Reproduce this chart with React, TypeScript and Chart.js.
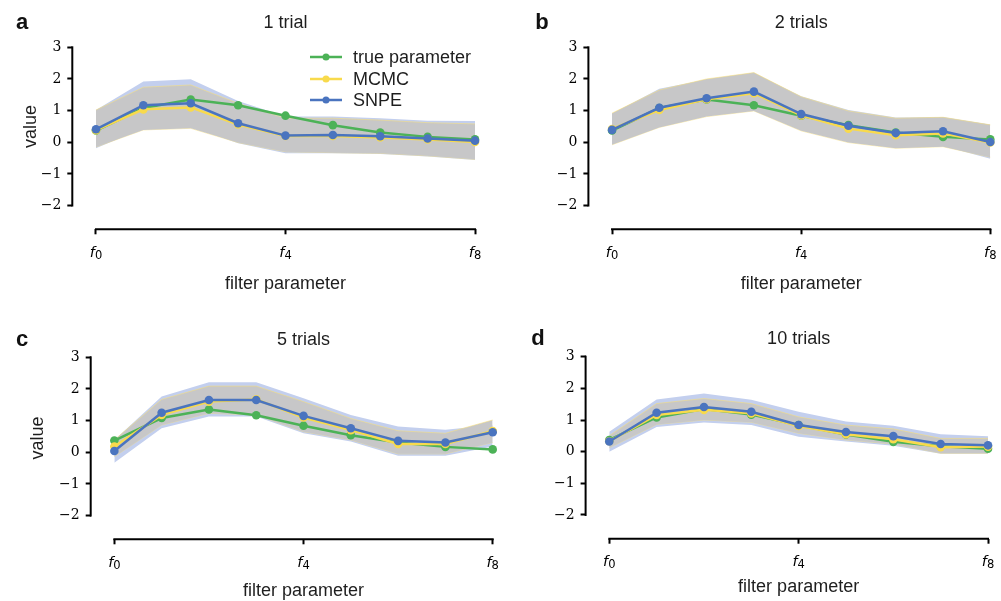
import React, { useEffect, useRef } from 'react';
import { Chart, registerables } from 'chart.js';

Chart.register(...registerables);

// ---------- data ----------
const filterIndex = [0, 1, 2, 3, 4, 5, 6, 7, 8];
const xTickValues = [0, 4, 8];
const xTickSubscripts = ['0', '4', '8'];
const yTickValues = [-2, -1, 0, 1, 2, 3];
const yTickLabels = ['\u22122', '\u22121', '0', '1', '2', '3'];
const panelTitles = ['1 trial', '2 trials', '5 trials', '10 trials'];
const panelLetters = ['a', 'b', 'c', 'd'];
const seriesNames = ['true parameter', 'MCMC', 'SNPE'];

const trueParameter = [0.37, 1.08, 1.35, 1.17, 0.84, 0.54, 0.31, 0.17, 0.09];

// 1 trial
const snpe1 = [0.41, 1.17, 1.23, 0.6, 0.21, 0.23, 0.19, 0.12, 0.05];
const mcmc1 = [0.38, 1.04, 1.1, 0.56, 0.2, 0.2, 0.15, 0.09, 0.01];
const snpeHi1 = [1.02, 1.92, 1.99, 1.3, 0.81, 0.81, 0.76, 0.68, 0.67];
const snpeLo1 = [-0.19, 0.44, 0.49, -0.03, -0.35, -0.35, -0.37, -0.45, -0.56];
const mcmcHi1 = [1.02, 1.74, 1.81, 1.23, 0.76, 0.76, 0.7, 0.62, 0.58];
const mcmcLo1 = [-0.15, 0.39, 0.44, -0.01, -0.3, -0.33, -0.35, -0.43, -0.54];

// 2 trials
const snpe2 = [0.39, 1.09, 1.39, 1.6, 0.89, 0.52, 0.29, 0.35, 0.01];
const mcmc2 = [0.42, 1.02, 1.36, 1.55, 0.85, 0.43, 0.22, 0.28, -0.01];
const snpeHi2 = [0.9, 1.69, 1.98, 2.18, 1.45, 1.02, 0.78, 0.8, 0.56];
const snpeLo2 = [-0.06, 0.49, 0.83, 1.01, 0.38, 0.02, -0.17, -0.12, -0.52];
const mcmcHi2 = [0.92, 1.65, 2.0, 2.2, 1.44, 0.99, 0.76, 0.79, 0.55];
const mcmcLo2 = [-0.08, 0.47, 0.81, 0.99, 0.36, -0.01, -0.19, -0.14, -0.47];

// 5 trials
const snpe5 = [0.04, 1.25, 1.65, 1.65, 1.15, 0.76, 0.36, 0.31, 0.63];
const mcmc5 = [0.18, 1.18, 1.6, 1.67, 1.1, 0.7, 0.26, 0.26, 0.67];
const snpeHi5 = [0.39, 1.76, 2.21, 2.21, 1.71, 1.18, 0.81, 0.71, 0.86];
const snpeLo5 = [-0.33, 0.76, 1.13, 1.13, 0.6, 0.34, -0.11, -0.11, 0.18];
const mcmcHi5 = [0.39, 1.67, 2.09, 2.09, 1.6, 1.07, 0.68, 0.6, 1.02];
const mcmcLo5 = [-0.14, 0.86, 1.23, 1.18, 0.65, 0.39, -0.05, -0.05, 0.31];

// 10 trials
const snpe10 = [0.32, 1.23, 1.41, 1.26, 0.84, 0.62, 0.49, 0.24, 0.2];
const mcmc10 = [0.33, 1.16, 1.32, 1.21, 0.81, 0.55, 0.39, 0.14, 0.16];
const snpeHi10 = [0.63, 1.65, 1.84, 1.64, 1.26, 0.95, 0.82, 0.55, 0.49];
const snpeLo10 = [0.0, 0.78, 0.92, 0.84, 0.47, 0.32, 0.19, -0.07, -0.07];
const mcmcHi10 = [0.5, 1.52, 1.68, 1.52, 1.1, 0.84, 0.72, 0.42, 0.42];
const mcmcLo10 = [0.12, 0.86, 1.0, 0.93, 0.58, 0.37, 0.24, -0.05, -0.05];

const snpeMeans = [snpe1, snpe2, snpe5, snpe10];
const mcmcMeans = [mcmc1, mcmc2, mcmc5, mcmc10];
const snpeHighs = [snpeHi1, snpeHi2, snpeHi5, snpeHi10];
const snpeLows = [snpeLo1, snpeLo2, snpeLo5, snpeLo10];
const mcmcHighs = [mcmcHi1, mcmcHi2, mcmcHi5, mcmcHi10];
const mcmcLows = [mcmcLo1, mcmcLo2, mcmcLo5, mcmcLo10];

// ---------- styles / layout ----------
const GREEN = '#4cb257';
const YELLOW = '#f8da4c';
const BLUE = '#4a74bf';
const GRAY_BAND = '#c7c7c8';
const BLUE_BAND = '#c3cfee';
const TEXT = '#1e1e1e';
const SANS = '"Liberation Sans", Arial, Helvetica, sans-serif';

const Y_MIN = -2.75;
const Y_MAX = 3;
const X_MIN = -0.5;
const X_MAX = 8;
const W = 500;
const H = 300;

type PanelLayout = {
  left: number;
  top: number;
  area: { left: number; top: number; right: number; bottom: number };
  letter: [number, number];
  titleY: number;
  yLabel: [number, number] | null;
  xLabelY: number;
  legend: boolean;
};

const panelLayouts: PanelLayout[] = [
  { left: 0, top: 0, area: { left: 72.3, top: 47.3, right: 475, bottom: 229.3 }, letter: [22, 29], titleY: 28, yLabel: [36, 126.5], xLabelY: 289, legend: true },
  { left: 500, top: 0, area: { left: 88.4, top: 47.3, right: 490.3, bottom: 229.3 }, letter: [42, 29], titleY: 28, yLabel: null, xLabelY: 289, legend: false },
  { left: 0, top: 300, area: { left: 90.7, top: 57.3, right: 492.7, bottom: 239.3 }, letter: [22, 46], titleY: 45, yLabel: [43, 138], xLabelY: 296, legend: false },
  { left: 500, top: 300, area: { left: 85.6, top: 56.7, right: 488, bottom: 238.7 }, letter: [38, 45], titleY: 44, yLabel: null, xLabelY: 292, legend: false },
];

const toPoints = (values: number[]) => values.map((v, i) => ({ x: filterIndex[i], y: v }));

const lineDataset = (label: string, values: number[], color: string) => ({
  label,
  data: toPoints(values),
  borderColor: color,
  backgroundColor: color,
  borderWidth: 2.5,
  pointRadius: 4.3,
  pointBorderWidth: 0,
  pointBackgroundColor: color,
  pointHoverRadius: 4.3,
  fill: false,
  tension: 0,
  clip: false as const,
});

const bandDataset = (label: string, values: number[], fillColor: string, fill: any, edge: string | null) => ({
  label,
  data: toPoints(values),
  borderColor: edge || 'rgba(0,0,0,0)',
  borderWidth: edge ? 1 : 0,
  backgroundColor: fillColor,
  pointRadius: 0,
  pointHoverRadius: 0,
  fill,
  tension: 0,
  clip: false as const,
});

function Panel({ index }: { index: number }) {
  const ref = useRef<HTMLCanvasElement | null>(null);
  const lay = panelLayouts[index];

  useEffect(() => {
    if (!ref.current) return;
    const area = lay.area;
    const decorations = {
      id: 'decorations' + index,
      afterDraw(chart: any) {
        const ctx = chart.ctx as CanvasRenderingContext2D;
        const xs = chart.scales.x;
        const ys = chart.scales.y;
        const ca = chart.chartArea;
        ctx.save();
        // spines
        ctx.strokeStyle = '#000';
        ctx.lineWidth = 2;
        ctx.lineCap = 'butt';
        ctx.beginPath();
        ctx.moveTo(ca.left, ys.getPixelForValue(yTickValues[yTickValues.length - 1]) - 1);
        ctx.lineTo(ca.left, ys.getPixelForValue(yTickValues[0]) + 1);
        ctx.stroke();
        ctx.beginPath();
        ctx.moveTo(xs.getPixelForValue(xTickValues[0]) - 1, ca.bottom);
        ctx.lineTo(xs.getPixelForValue(xTickValues[xTickValues.length - 1]) + 1, ca.bottom);
        ctx.stroke();

        // x tick labels f_k
        ctx.fillStyle = '#000';
        const fFont = 'italic 14.5px "DejaVu Sans", sans-serif';
        const subFont = '11.5px "DejaVu Sans", sans-serif';
        xTickValues.forEach((v, i) => {
          const px = xs.getPixelForValue(v);
          ctx.font = fFont;
          const fw = ctx.measureText('f').width;
          ctx.font = subFont;
          const sw = ctx.measureText(xTickSubscripts[i]).width;
          const start = px - (fw + sw) / 2;
          ctx.textAlign = 'left';
          ctx.textBaseline = 'alphabetic';
          ctx.font = fFont;
          ctx.fillText('f', start, ca.bottom + 27.5);
          ctx.font = subFont;
          ctx.fillText(xTickSubscripts[i], start + fw, ca.bottom + 29.5);
        });

        // texts
        ctx.fillStyle = TEXT;
        ctx.textBaseline = 'alphabetic';
        const midX = (xs.getPixelForValue(xTickValues[0]) + xs.getPixelForValue(xTickValues[xTickValues.length - 1])) / 2;
        ctx.font = '18px ' + SANS;
        ctx.textAlign = 'center';
        ctx.fillText(panelTitles[index], midX, lay.titleY);
        ctx.fillText('filter parameter', midX, lay.xLabelY);
        if (lay.yLabel) {
          ctx.save();
          ctx.translate(lay.yLabel[0], lay.yLabel[1]);
          ctx.rotate(-Math.PI / 2);
          ctx.fillText('value', 0, 0);
          ctx.restore();
        }
        ctx.font = 'bold 22px ' + SANS;
        ctx.fillStyle = '#111';
        ctx.textAlign = 'center';
        ctx.fillText(panelLetters[index], lay.letter[0], lay.letter[1]);

        // legend
        if (lay.legend) {
          const colors = [GREEN, YELLOW, BLUE];
          const rows = [57, 79, 100];
          seriesNames.forEach((name, i) => {
            ctx.strokeStyle = colors[i];
            ctx.lineWidth = 2.5;
            ctx.beginPath();
            ctx.moveTo(310, rows[i]);
            ctx.lineTo(342, rows[i]);
            ctx.stroke();
            ctx.fillStyle = colors[i];
            ctx.beginPath();
            ctx.arc(326, rows[i], 3.5, 0, Math.PI * 2);
            ctx.fill();
            ctx.fillStyle = TEXT;
            ctx.font = '18px ' + SANS;
            ctx.textAlign = 'left';
            ctx.textBaseline = 'middle';
            ctx.fillText(name, 353, rows[i] + 1);
          });
        }
        ctx.restore();
      },
    };

    const chart = new Chart(ref.current, {
      type: 'line',
      data: {
        datasets: [
          lineDataset(seriesNames[2], snpeMeans[index], BLUE),
          lineDataset(seriesNames[1], mcmcMeans[index], YELLOW),
          lineDataset(seriesNames[0], trueParameter, GREEN),
          bandDataset('MCMC upper', mcmcHighs[index], GRAY_BAND, '+1', 'rgba(250,224,120,0.55)'),
          bandDataset('MCMC lower', mcmcLows[index], GRAY_BAND, false, 'rgba(250,224,120,0.55)'),
          bandDataset('SNPE upper', snpeHighs[index], BLUE_BAND, '+1', null),
          bandDataset('SNPE lower', snpeLows[index], BLUE_BAND, false, null),
        ] as any,
      },
      options: {
        animation: false,
        responsive: false,
        devicePixelRatio: 1,
        events: [],
        layout: { padding: { left: 0, top: area.top, right: W - area.right, bottom: 0 } },
        plugins: {
          legend: { display: false },
          tooltip: { enabled: false },
          title: { display: false },
        },
        scales: {
          x: {
            type: 'linear',
            min: X_MIN,
            max: X_MAX,
            afterBuildTicks: (axis: any) => {
              axis.ticks = xTickValues.map((v) => ({ value: v }));
            },
            afterFit: (axis: any) => {
              axis.height = H - area.bottom;
            },
            ticks: { display: false },
            border: { display: false },
            grid: {
              display: true,
              drawOnChartArea: false,
              drawTicks: true,
              tickLength: 5,
              tickColor: '#000',
              tickWidth: 2,
            },
          },
          y: {
            type: 'linear',
            min: Y_MIN,
            max: Y_MAX,
            afterBuildTicks: (axis: any) => {
              axis.ticks = yTickValues.map((v) => ({ value: v }));
            },
            afterFit: (axis: any) => {
              axis.width = area.left;
            },
            ticks: {
              padding: 6,
              color: '#000',
              font: { family: '"DejaVu Serif", serif', size: 14 },
              callback: (_v: any, i: number) => yTickLabels[i],
            },
            border: { display: false },
            grid: {
              display: true,
              drawOnChartArea: false,
              drawTicks: true,
              tickLength: 5,
              tickColor: '#000',
              tickWidth: 2,
            },
          },
        },
      } as any,
      plugins: [decorations],
    });
    return () => chart.destroy();
  }, [index]);

  return (
    <canvas
      ref={ref}
      width={W}
      height={H}
      style={{ position: 'absolute', left: lay.left, top: lay.top, width: W, height: H }}
    />
  );
}

export default function App() {
  return (
    <div style={{ position: 'fixed', left: 0, top: 0, width: 1001, height: 601, background: '#fff', overflow: 'hidden' }}>
      {[0, 1, 2, 3].map((i) => (
        <Panel key={i} index={i} />
      ))}
    </div>
  );
}
